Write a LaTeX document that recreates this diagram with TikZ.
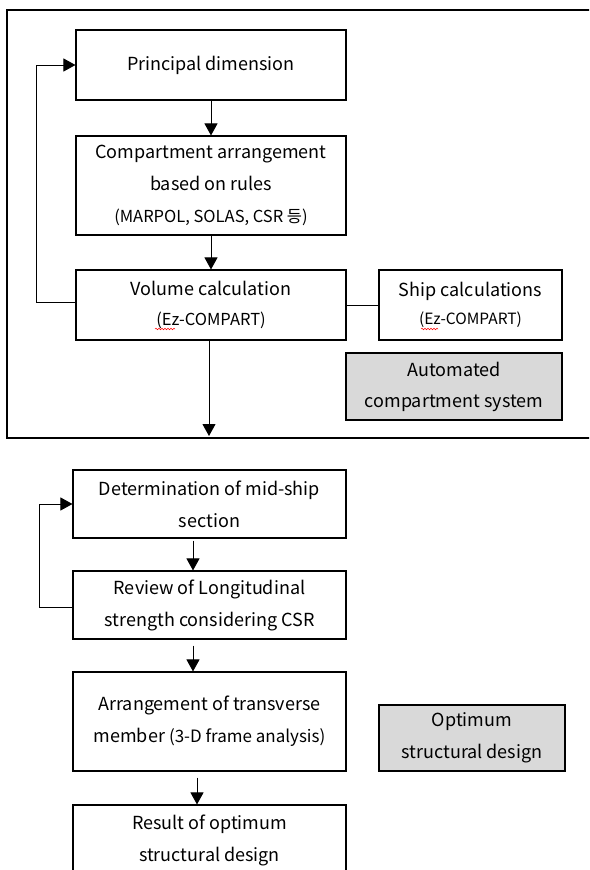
\documentclass[tikz,border=0pt]{standalone}
\usepackage{fontspec}
\setmainfont{Noto Sans CJK KR}
\usetikzlibrary{arrows.meta,decorations.pathmorphing}

\tikzset{
  box/.style={draw, line width=1.1pt, rectangle, align=center, inner sep=0pt,
    font=\fontsize{18}{32}\selectfont},
  graybox/.style={box, fill=gray!30},
  arr/.style={-{Triangle[width=13pt,length=12pt]}, line width=1pt},
  squig/.style={red, line width=0.5pt, decorate,
    decoration={snake, segment length=3pt, amplitude=0.8pt}}
}
\newcommand{\smalltxt}[2][14.5]{{\fontsize{#1}{20}\selectfont #2}}

\begin{document}
\begin{tikzpicture}[x=1pt, y=1pt]

\clip (0,0) rectangle (589,-870);
\fill[white] (0,0) rectangle (589,-870);

% upper frame
\draw [line width=2.2pt] (600,-10) -- (7,-10) -- (7,-438) -- (600,-438);

\node [box, minimum width=270, minimum height=70] (pd) at (211,-65) {Principal dimension};
\node [box, minimum width=270, minimum height=99] (ca) at (211,-185.5)
  {Compartment arrangement\\based on rules\\\smalltxt[16.5]{(MARPOL, SOLAS, CSR 등)}};
\node [box, minimum width=270, minimum height=70] (vc) at (211,-305)
  {Volume calculation\\[-2pt]\smalltxt[16.5]{(Ez-COMPART)}};
\node [box, minimum width=183, minimum height=70] (sc) at (470.5,-305)
  {Ship calculations\\[-4pt]\smalltxt[15.5]{(Ez-COMPART)}};
\node [graybox, minimum width=216, minimum height=67] (acs) at (454,-386.5)
  {Automated\\[-1pt]compartment system};

\draw [arr] (pd) -- (ca);
\draw [arr] (ca) -- (vc);
\coordinate (out) at (209,-436);
\draw [arr] (vc.south -| out) -- (out);
\draw [line width=1pt] (vc.east) -- (sc.west);
\draw [arr] ([yshift=3]vc.west) -- ++(-39,0) |- (pd.west);

% spell-check marks
\draw [squig] (155,-329) -- (175,-329);
\draw [squig] (421,-329) -- (438,-329);

% lower part
\node [box, minimum width=273, minimum height=68] (ms) at (209.5,-504)
  {Determination of mid-ship\\section};
\node [box, minimum width=273, minimum height=68] (rv) at (209.5,-605)
  {Review of Longitudinal\\strength considering CSR};
\node [box, minimum width=273, minimum height=99] (ar) at (209.5,-721.5)
  {Arrangement of transverse\\member \smalltxt[17]{(3-D frame analysis)}};
\node [graybox, minimum width=186, minimum height=66] (om) at (472,-738)
  {Optimum\\structural design};
\node [box, minimum width=273, minimum height=70] (rs) at (209.5,-840)
  {Result of optimum\\structural design};

\draw [arr] ([xshift=-16.5,yshift=-2]ms.south) -- ([xshift=-16.5]rv.north);
\draw [arr] ([xshift=-16.5,yshift=-6]rv.south) -- ([xshift=-16.5]ar.north);
\draw [arr] ([xshift=-12.5,yshift=-6]ar.south) -- ([xshift=-12.5]rs.north);
\draw [arr] ([yshift=-2]rv.west) -- ++(-33,0) |- (ms.west);

\end{tikzpicture}
\end{document}
